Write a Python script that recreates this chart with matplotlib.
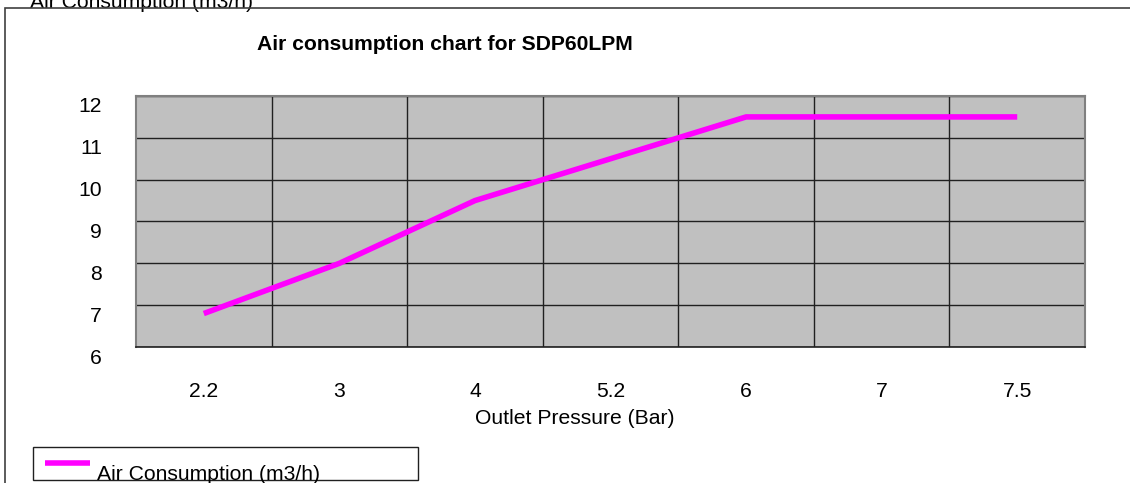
import matplotlib
matplotlib.use("Agg")
import matplotlib.pyplot as plt
import matplotlib.transforms as mtransforms
from matplotlib.patches import Rectangle
from matplotlib.lines import Line2D

categories = ['2.2', '3', '4', '5.2', '6', '7', '7.5']
air_consumption = [6.8, 8.0, 9.5, 10.5, 11.5, 11.5, 11.5]
y_ticks = [6, 7, 8, 9, 10, 11, 12]
title = "Air consumption chart for SDP60LPM"
x_label = "Outlet Pressure (Bar)"
series_label = "Air Consumption (m3/h)"

plt.rcParams['font.family'] = ['Liberation Sans', 'DejaVu Sans']
FS = 15.2

W, H = 1130, 483
fig = plt.figure(figsize=(W / 100, H / 100), dpi=100)

def fx(px):
    return px / W

def fy(py):
    return 1 - py / H

fig.text(fx(30), fy(7.5), series_label, ha='left', va='baseline', fontsize=FS, zorder=1)

# outer border
fig.patches.append(Rectangle((fx(5), fy(483 + 5)), fx(1200), fy(8) - fy(488),
                             transform=fig.transFigure, fill=False,
                             edgecolor='#404040', linewidth=1.2, zorder=2))

ax = fig.add_axes([fx(136), fy(347), fx(1085) - fx(136), fy(96) - fy(347)])
ax.set_facecolor('#C0C0C0')
x = list(range(len(categories)))
ax.plot(x, air_consumption, color='#FF00FF', linewidth=4.0, solid_capstyle='butt', zorder=3)

ax.set_xlim(-0.5, len(categories) - 0.5)
ax.set_ylim(6, 12)
ax.set_yticks(y_ticks)
ax.set_yticklabels([str(v) for v in y_ticks])
ax.set_xticks(x)
ax.set_xticklabels(categories)
ax.set_xticks([i + 0.5 for i in range(len(categories) - 1)], minor=True)
ax.grid(axis='y', which='major', color='#202020', linewidth=1.0)
ax.grid(axis='x', which='minor', color='#202020', linewidth=1.0)
ax.grid(axis='x', which='major', visible=False)
ax.set_axisbelow(True)
ax.tick_params(axis='both', which='both', length=0, labelsize=FS, colors='black')
ax.tick_params(axis='y', pad=24.5)
ax.tick_params(axis='x', pad=25)

off = mtransforms.ScaledTranslation(0, -9 / 100, fig.dpi_scale_trans)
for lab in ax.get_yticklabels():
    lab.set_transform(lab.get_transform() + off)

for s in ['left', 'top', 'right']:
    ax.spines[s].set_color('#808080')
    ax.spines[s].set_linewidth(1.5)
ax.spines['bottom'].set_color('#202020')
ax.spines['bottom'].set_linewidth(1.2)

fig.text(fx(445), fy(45), title, ha='center', va='center',
         fontsize=FS, fontweight='bold')
fig.text(fx(575), fy(418), x_label, ha='center', va='center', fontsize=FS)

# legend
fig.patches.append(Rectangle((fx(33), fy(480)), fx(418) - fx(33), fy(447) - fy(480),
                             transform=fig.transFigure, fill=False,
                             edgecolor='#202020', linewidth=1.0))
fig.lines.append(Line2D([fx(45), fx(90)], [fy(463), fy(463)], transform=fig.transFigure,
                        color='#FF00FF', linewidth=4.0, solid_capstyle='butt'))
fig.text(fx(97), fy(480), series_label, ha='left', va='baseline', fontsize=FS)

fig.savefig('out.png', dpi=100)
